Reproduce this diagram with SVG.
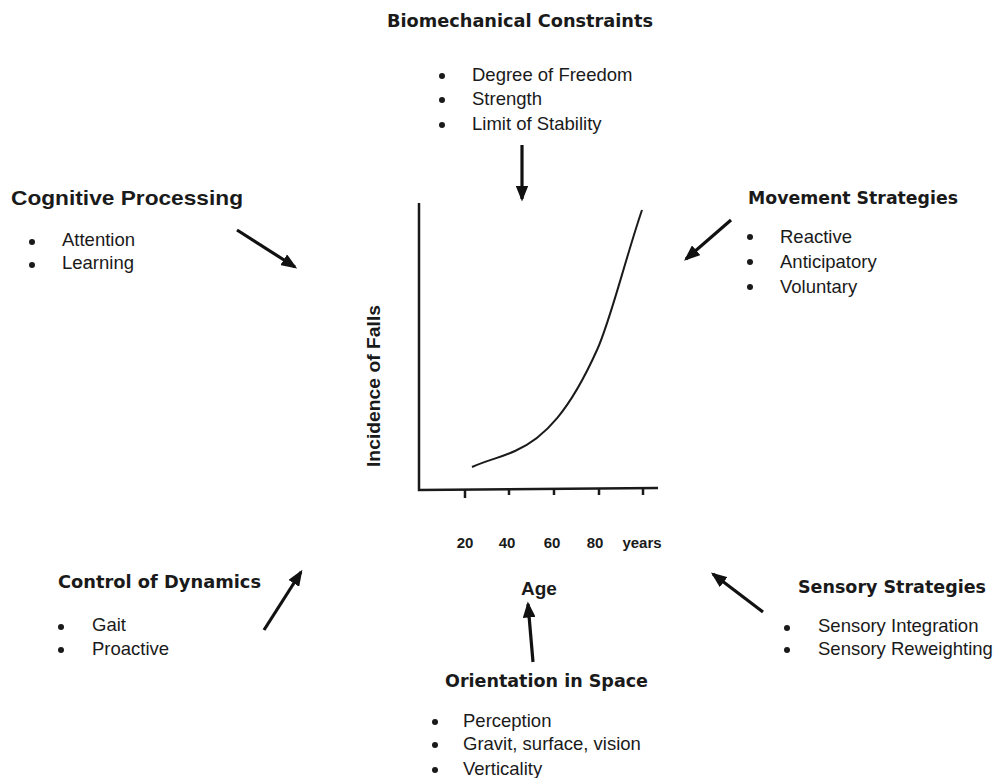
<svg xmlns="http://www.w3.org/2000/svg" width="1000" height="778" viewBox="0 0 1000 778">
<defs>
<marker id="ah" markerWidth="5" markerHeight="4" refX="4.2" refY="2" orient="auto" markerUnits="strokeWidth">
<path d="M0,0 L5,2 L0,4 Z" fill="#111"/>
</marker>
<style>
.t{font-family:"DejaVu Sans",Verdana,sans-serif;font-weight:bold;font-size:17px;fill:#1a1a1a}
.b{font-family:"Liberation Sans",Arial,sans-serif;font-size:18.5px;fill:#1a1a1a}
.c{font-family:"Liberation Sans",Arial,sans-serif;font-weight:bold;fill:#1a1a1a}
.d{fill:#1a1a1a}
.a{stroke:#111;stroke-width:3.2;fill:none;marker-end:url(#ah)}
.ax{stroke:#1a1a1a;stroke-width:2.5;fill:none}
</style>
</defs>
<rect width="1000" height="778" fill="#fff"/>

<g id="chart">
<path class="ax" d="M419,203 L419,490 L658,488"/>
<path class="ax" d="M465,489 V498 M509,489 V495 M554,489 V495 M599,488 V495 M643,488 V495" stroke-width="2"/>
<path d="M472,467 C490,459 500,458 515,451 C545,438 570,410 597,350 C610,322 625,260 642,210" stroke="#1a1a1a" stroke-width="2" fill="none"/>
<text class="c" font-size="18" transform="translate(380,386) rotate(-90)" text-anchor="middle" textLength="162" lengthAdjust="spacingAndGlyphs">Incidence of Falls</text>
<g class="c" font-size="15" text-anchor="middle" fill="#2a2a2a">
<text x="465" y="548">20</text>
<text x="507" y="548">40</text>
<text x="552" y="548">60</text>
<text x="595" y="548">80</text>
<text x="642" y="548">years</text>
</g>
<text class="c" font-size="19" x="539" y="595" text-anchor="middle">Age</text>
</g>

<g id="biomechanical">
<text class="t" x="387" y="27" textLength="266" lengthAdjust="spacingAndGlyphs">Biomechanical Constraints</text>
<circle class="d" cx="442" cy="76" r="3"/>
<circle class="d" cx="442" cy="100" r="3"/>
<circle class="d" cx="442" cy="125" r="3"/>
<text class="b" x="472" y="81">Degree of Freedom</text>
<text class="b" x="472" y="105">Strength</text>
<text class="b" x="472" y="130">Limit of Stability</text>
</g>

<g id="cognitive">
<text class="c" font-size="21" x="11" y="205" textLength="232" lengthAdjust="spacingAndGlyphs">Cognitive Processing</text>
<circle class="d" cx="32" cy="242" r="3"/>
<circle class="d" cx="32" cy="265" r="3"/>
<text class="b" x="62" y="246">Attention</text>
<text class="b" x="62" y="269">Learning</text>
</g>

<g id="movement">
<text class="t" x="748" y="204" textLength="210" lengthAdjust="spacingAndGlyphs">Movement Strategies</text>
<circle class="d" cx="750" cy="237" r="3"/>
<circle class="d" cx="750" cy="262" r="3"/>
<circle class="d" cx="750" cy="287" r="3"/>
<text class="b" x="780" y="243">Reactive</text>
<text class="b" x="780" y="268">Anticipatory</text>
<text class="b" x="780" y="293">Voluntary</text>
</g>

<g id="control">
<text class="t" x="58" y="588" textLength="203" lengthAdjust="spacingAndGlyphs">Control of Dynamics</text>
<circle class="d" cx="61" cy="627" r="3"/>
<circle class="d" cx="61" cy="650" r="3"/>
<text class="b" x="92" y="631">Gait</text>
<text class="b" x="92" y="655">Proactive</text>
</g>

<g id="sensory">
<text class="t" x="798" y="593" textLength="188" lengthAdjust="spacingAndGlyphs">Sensory Strategies</text>
<circle class="d" cx="787" cy="628" r="3"/>
<circle class="d" cx="787" cy="650" r="3"/>
<text class="b" x="818" y="632">Sensory Integration</text>
<text class="b" x="818" y="655">Sensory Reweighting</text>
</g>

<g id="orientation">
<text class="t" x="445" y="687" textLength="203" lengthAdjust="spacingAndGlyphs">Orientation in Space</text>
<circle class="d" cx="435" cy="722" r="3"/>
<circle class="d" cx="435" cy="745" r="3"/>
<circle class="d" cx="435" cy="770" r="3"/>
<text class="b" x="463" y="727">Perception</text>
<text class="b" x="463" y="750">Gravit, surface, vision</text>
<text class="b" x="463" y="775">Verticality</text>
</g>

<g id="connectors">
<line class="a" x1="522" y1="145" x2="522" y2="199"/>
<line class="a" x1="237" y1="230" x2="295" y2="267"/>
<line class="a" x1="731" y1="220" x2="686" y2="259"/>
<line class="a" x1="264" y1="630" x2="301" y2="572"/>
<line class="a" x1="763" y1="612" x2="713" y2="574"/>
<line class="a" x1="533" y1="662" x2="528" y2="604"/>
</g>
</svg>
